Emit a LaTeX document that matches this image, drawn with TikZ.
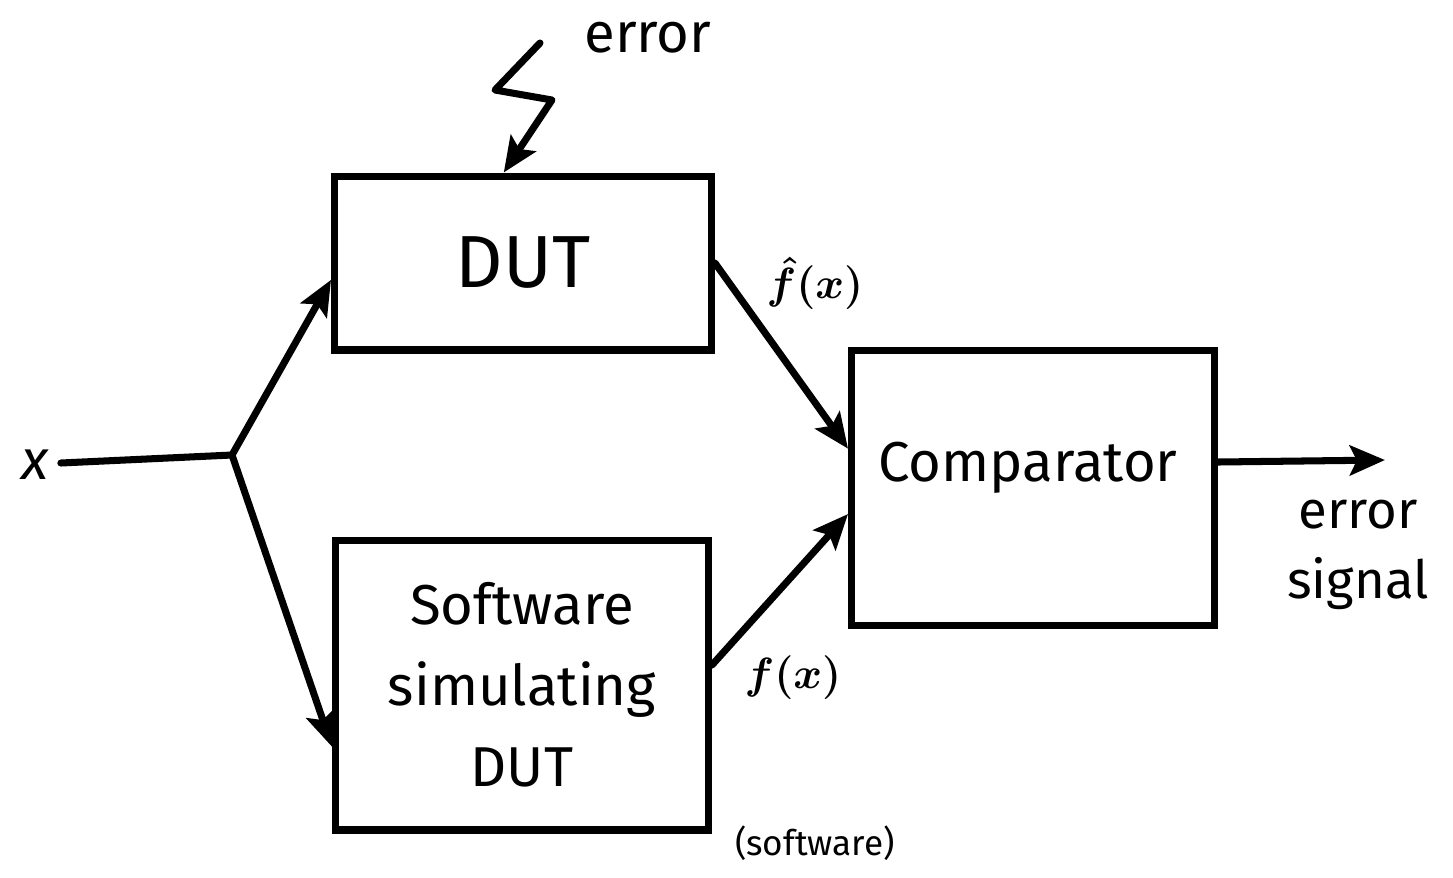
\documentclass[tikz,border=0pt]{standalone}
\usepackage{fontspec}
\setmainfont{Fira Sans}
\usetikzlibrary{arrows.meta,calc}
\tikzset{
  blk/.style={draw, line width=4pt, inner sep=0pt, align=center},
  wire/.style={line width=4pt, line cap=round, line join=round},
  arr/.style={wire, -{Stealth[length=20pt,width=17pt,inset=4pt]}},
  big/.style={font=\fontsize{32}{46}\selectfont},
  lbl/.style={font=\fontsize{28}{32}\selectfont\boldmath, inner sep=0pt},
}
\begin{document}
\begin{tikzpicture}[x=0.02cm, y=-0.02cm]
\useasboundingbox (0,0) rectangle (1453,877);

% blocks
\node[blk, minimum width=7.54cm, minimum height=3.48cm,
      font=\fontsize{42}{46}\selectfont] (dut) at (523,263) {DUT};
\node[blk, big, minimum width=7.46cm, minimum height=5.8cm] (sim) at (522,685)
     {Software\\simulating\\DUT};
\node[blk, big, minimum width=7.26cm, minimum height=5.5cm] (cmp) at (1033,488) {};
\node[big, inner sep=0pt] (cmptxt) at (1028,468) {Comparator};

% input and branch point
\node[lbl, font=\fontsize{32}{36}\selectfont\itshape] (x) at (35,465) {x};
\coordinate (br) at (232,455);
\draw[wire] (x.east) ++(12,-2) coordinate (xs) -- (br);
\draw[arr] (br) -- (dut.185);
\draw[arr] (br) -- (sim.198);

% outputs into the comparator
\draw[arr] (dut.east) -- (cmp.168);
\draw[arr] (sim.6) -- (cmp.188);
\coordinate (out) at (1385,460);
\draw[arr] (cmp.8) -- (out);

% injected error
\node[lbl, font=\fontsize{32}{36}\selectfont] (err) at (648,38) {error};
\coordinate (z1) at (540,43);
\coordinate (z2) at (495,90);
\coordinate (z3) at (552,100);
\draw[arr] (z1) -- (z2) -- (z3) -- (dut.102);

% labels
\node[lbl] (fhat) at (815,283) {$\hat{f}(x)$};
\node[lbl] (fx) at (793,678) {$f(x)$};
\node[lbl, font=\fontsize{20}{24}\selectfont] (sw) at (815,843) {(software)};
\node[lbl, align=center, font=\fontsize{30}{40}\selectfont] (es) at (1358,555) {error\\signal};
\end{tikzpicture}
\end{document}
